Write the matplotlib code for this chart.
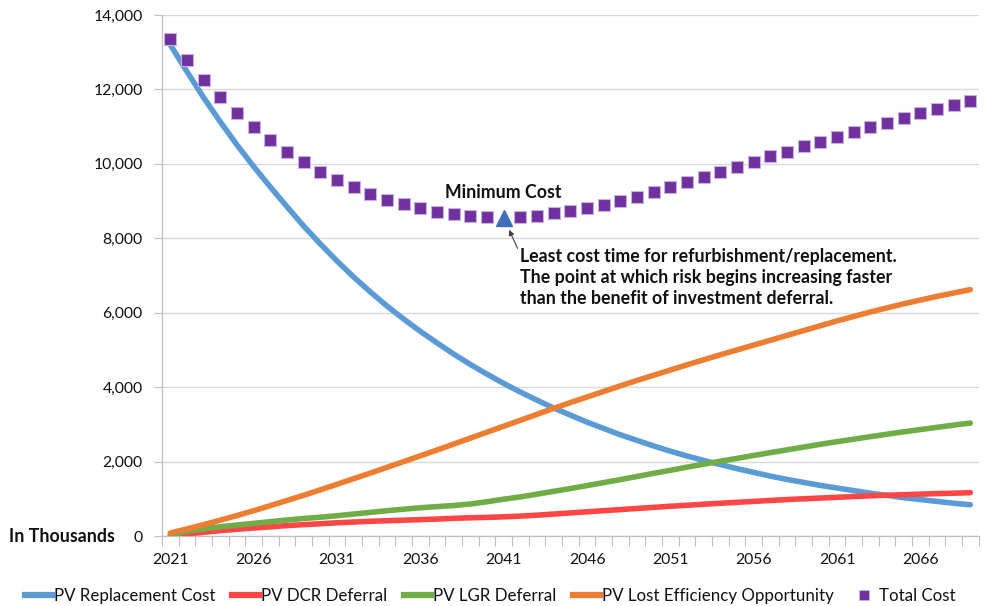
import numpy as np
import matplotlib
matplotlib.use("Agg")
import matplotlib.pyplot as plt
from matplotlib.lines import Line2D

plt.rcParams['font.family'] = ['Lato', 'DejaVu Sans']

# Analysis horizon (one value per year)
years = list(range(2021, 2070))

replacement_cost = [13200, 12480, 11780, 11130, 10510, 9930, 9380, 8850, 8330, 7850,
                    7390, 6960, 6560, 6180, 5830, 5500, 5190, 4890, 4610, 4350,
                    4100, 3870, 3650, 3440, 3250, 3060, 2890, 2720, 2570, 2420,
                    2280, 2150, 2030, 1920, 1810, 1710, 1610, 1520, 1440, 1360,
                    1290, 1220, 1150, 1090, 1030, 980, 930, 880, 840]

dcr_deferral = [5, 55, 100, 145, 180, 215, 245, 280, 305, 330,
                355, 375, 395, 410, 425, 440, 455, 475, 490, 500,
                515, 535, 560, 590, 620, 650, 680, 710, 740, 770,
                800, 825, 855, 880, 905, 930, 955, 980, 1000, 1020,
                1040, 1060, 1080, 1095, 1110, 1125, 1140, 1150, 1165]

lgr_deferral = [20, 130, 195, 250, 295, 340, 385, 430, 470, 505,
                545, 590, 635, 680, 720, 760, 790, 820, 860, 920,
                990, 1050, 1125, 1200, 1275, 1355, 1435, 1515, 1600, 1685,
                1765, 1850, 1930, 2010, 2085, 2165, 2240, 2315, 2390, 2465,
                2535, 2600, 2670, 2735, 2800, 2860, 2920, 2980, 3035]

lost_efficiency = [80, 190, 305, 425, 550, 680, 815, 955, 1095, 1240,
                   1390, 1540, 1690, 1845, 2000, 2155, 2310, 2470, 2630, 2790,
                   2950, 3110, 3270, 3430, 3585, 3735, 3885, 4035, 4180, 4320,
                   4460, 4600, 4735, 4870, 5000, 5130, 5260, 5390, 5520, 5650,
                   5780, 5900, 6020, 6130, 6240, 6340, 6440, 6530, 6620]

total_cost = [13350, 12780, 12260, 11790, 11360, 10990, 10650, 10320, 10040, 9780,
              9570, 9380, 9200, 9040, 8910, 8810, 8720, 8640, 8590, 8560,
              8550, 8580, 8610, 8670, 8740, 8810, 8900, 9000, 9120, 9250,
              9370, 9510, 9640, 9770, 9920, 10060, 10200, 10330, 10470, 10600,
              10730, 10870, 11000, 11110, 11230, 11360, 11470, 11570, 11680]

year_labels = [2021, 2026, 2031, 2036, 2041, 2046, 2051, 2056, 2061, 2066]
y_ticks = [0, 2000, 4000, 6000, 8000, 10000, 12000, 14000]

c_blue = '#5B9BD5'
c_red = '#FF4646'
c_green = '#70AD47'
c_orange = '#ED7D31'
c_purple = '#7030A0'
c_grid = '#D9D9D9'
c_axis = '#BFBFBF'
c_text = '#111111'

fig = plt.figure(figsize=(9.84, 6.06), dpi=100)
ax = fig.add_axes([0.1646, 0.1155, 0.8300, 0.8597])

yrs = np.array(years)
lw = 4.0
ax.plot(yrs, replacement_cost, color=c_blue, lw=lw, solid_capstyle='round', zorder=3)
ax.plot(yrs, dcr_deferral, color=c_red, lw=lw, solid_capstyle='round', zorder=4)
ax.plot(yrs, lgr_deferral, color=c_green, lw=lw, solid_capstyle='round', zorder=5)
ax.plot(yrs, lost_efficiency, color=c_orange, lw=lw, solid_capstyle='round', zorder=6)

# Total cost: squares everywhere except the minimum, which gets a triangle
tot = np.array(total_cost)
i_min = int(np.argmin(tot))
mask = np.ones(len(tot), bool)
mask[i_min] = False
ax.plot(yrs[mask], tot[mask], ls='none', marker='s', ms=8.5,
        mfc=c_purple, mec='#C7B1DE', mew=0.8, zorder=7)
ax.plot([yrs[i_min]], [tot[i_min]], ls='none', marker='^', ms=11.5,
        mfc='#3F6FBF', mec='#3F6FBF', zorder=8)

ax.annotate('Minimum Cost', xy=(yrs[i_min], tot[i_min]), xytext=(0, 18),
            textcoords='offset points', ha='center', va='center',
            fontsize=12.8, fontweight='bold', color=c_text, zorder=9)
ax.annotate('', xy=(yrs[i_min], tot[i_min]), xytext=(10, -22),
            textcoords='offset points',
            arrowprops=dict(arrowstyle='-|>', color='#404040', lw=0.8,
                            mutation_scale=8, shrinkA=0, shrinkB=9.5), zorder=9)
ax.annotate('Least cost time for refurbishment/replacement.\n'
            'The point at which risk begins increasing faster\n'
            'than the benefit of investment deferral.',
            xy=(yrs[i_min], tot[i_min]), xytext=(11.5, -21.5),
            textcoords='offset points', ha='left', va='top',
            fontsize=12.8, fontweight='bold', color=c_text,
            linespacing=1.28, zorder=9)

# Axes styling
ax.set_xlim(years[0] - 0.5, years[-1] + 0.5)
ax.set_ylim(0, 14000)
ax.set_yticks(y_ticks)
ax.set_yticklabels([f'{v:,}' for v in y_ticks])
ax.set_xticks(year_labels)
ax.set_xticklabels([str(y) for y in year_labels])
ax.set_xticks(np.arange(years[0] - 0.5, years[-1] + 1.0, 1.0), minor=True)
ax.tick_params(axis='x', which='major', length=0, pad=12, labelsize=11.3, labelcolor=c_text)
ax.tick_params(axis='x', which='minor', length=7, width=0.8, color=c_axis)
ax.tick_params(axis='y', which='major', length=6, width=0.8, color=c_axis,
               pad=8, labelsize=11.3, labelcolor=c_text)
ax.grid(axis='y', color=c_grid, lw=1.0, zorder=0)
ax.set_axisbelow(True)
for s in ('top', 'right'):
    ax.spines[s].set_visible(False)
for s in ('left', 'bottom'):
    ax.spines[s].set_color(c_axis)
    ax.spines[s].set_linewidth(0.9)

fig.text(115 / 984, 1 - 536 / 606, 'In Thousands', ha='right', va='center',
         fontsize=12.8, fontweight='bold', color=c_text)

handles = [
    Line2D([], [], color=c_blue, lw=4.5),
    Line2D([], [], color=c_red, lw=4.5),
    Line2D([], [], color=c_green, lw=4.5),
    Line2D([], [], color=c_orange, lw=4.5),
    Line2D([], [], ls='none', marker='s', ms=7, mfc=c_purple, mec='#C7B1DE', mew=0.6),
]
labels = ['PV Replacement Cost', 'PV DCR Deferral', 'PV LGR Deferral',
          'PV Lost Efficiency Opportunity', 'Total Cost']
fig.legend(handles, labels, loc='center', bbox_to_anchor=(0.4985, 1 - 596 / 606),
           ncol=5, frameon=False, fontsize=12.2, handlelength=1.6,
           handletextpad=0.1, columnspacing=1.0, labelcolor=c_text)

fig.savefig('out.png', dpi=100)
